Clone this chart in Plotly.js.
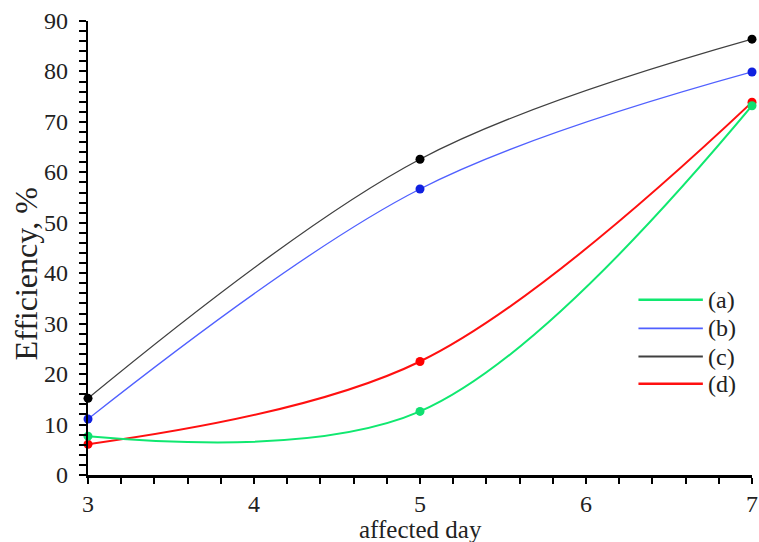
<!DOCTYPE html>
<html>
<head>
<meta charset="utf-8">
<script src="https://cdn.plot.ly/plotly-3.0.1.min.js"></script>
<style>html,body{margin:0;padding:0;background:#fff;}#chart{width:759px;height:542px;}</style>
</head>
<body>
<div id="chart"></div>
<script>
var days = [3, 5, 7];
var seriesA = [7.7, 12.6, 73.2];
var seriesB = [11.1, 56.7, 79.9];
var seriesC = [15.2, 62.6, 86.4];
var seriesD = [6.1, 22.5, 73.9];
var names = ['(a)', '(b)', '(c)', '(d)'];
var xTickVals = [3, 3.2, 3.4, 3.6, 3.8, 4, 4.2, 4.4, 4.6, 4.8, 5, 5.2, 5.4, 5.6, 5.8, 6, 6.2, 6.4, 6.6, 6.8, 7];
var xTickText = ['3', '', '', '', '', '4', '', '', '', '', '5', '', '', '', '', '6', '', '', '', '', '7'];
var yTickVals = [0, 2, 4, 6, 8, 10, 12, 14, 16, 18, 20, 22, 24, 26, 28, 30, 32, 34, 36, 38, 40, 42, 44, 46, 48, 50, 52, 54, 56, 58, 60, 62, 64, 66, 68, 70, 72, 74, 76, 78, 80, 82, 84, 86, 88, 90];
var yLabelVals = [0, 10, 20, 30, 40, 50, 60, 70, 80, 90];
var xTitle = 'affected day';
var yTitle = 'Efficiency, %';
var lineColors = ['#10e870', '#5060ff', '#404040', '#ff1010'];
var markerColors = ['#10e070', '#1020e0', '#000000', '#ff0000'];
var lineWidths = [2, 1.3, 1.3, 2];

function tr(y, i) {
  return {
    x: days, y: y, name: names[i], type: 'scatter', mode: 'lines+markers',
    line: {shape: 'spline', smoothing: 1, color: lineColors[i], width: lineWidths[i]},
    marker: {size: 9, color: markerColors[i]},
    cliponaxis: false, showlegend: false
  };
}

var data = [tr(seriesD, 3), tr(seriesC, 2), tr(seriesB, 1), tr(seriesA, 0)];

var fam = 'Liberation Serif, Times New Roman, serif';
var font = {family: fam, size: 24, color: '#222'};
var titleFont = {family: fam, size: 25, color: '#222'};
var yTitleFont = {family: fam, size: 32, color: '#222'};

// manual legend (long line samples, no markers)
var legY = [0.386, 0.323, 0.261, 0.201];
var shapes = [], annotations = [];
for (var i = 0; i < names.length; i++) {
  shapes.push({type: 'line', xref: 'paper', yref: 'paper', x0: 0.829, x1: 0.926, y0: legY[i], y1: legY[i],
    line: {color: lineColors[i], width: lineWidths[i] + 0.5}});
  annotations.push({xref: 'paper', yref: 'paper', x: 0.930, y: legY[i], xanchor: 'left', yanchor: 'middle',
    text: names[i], showarrow: false, font: font});
}
// y tick labels as annotations (placed through the y scale)
yLabelVals.forEach(function (v) {
  annotations.push({xref: 'paper', yref: 'y', x: -0.027, y: v, xanchor: 'right', yanchor: 'middle',
    text: String(v), showarrow: false, font: font});
});
// axis titles placed as annotations
annotations.push({xref: 'paper', yref: 'paper', x: 0.5, y: -0.12, xanchor: 'center', yanchor: 'middle',
  text: xTitle, showarrow: false, font: titleFont});
annotations.push({xref: 'paper', yref: 'paper', x: -0.094, y: 0.443, xanchor: 'center', yanchor: 'middle',
  text: yTitle, textangle: -90, showarrow: false, font: yTitleFont});

var layout = {
  width: 759, height: 542,
  margin: {l: 88, r: 7, t: 21, b: 67, pad: 0},
  paper_bgcolor: '#fff', plot_bgcolor: '#fff',
  font: font,
  showlegend: false,
  shapes: shapes,
  annotations: annotations,
  xaxis: {
    range: [3, 7], tickmode: 'array', tickvals: xTickVals, ticktext: xTickText,
    showgrid: false, zeroline: false, showline: true, linecolor: '#000', linewidth: 2.5,
    ticks: 'outside', ticklen: 6, tickwidth: 2, tickcolor: '#000',
    tickfont: font, automargin: false
  },
  yaxis: {
    range: [0, 90], tickmode: 'array', tickvals: yTickVals, showticklabels: false,
    showgrid: false, zeroline: false, showline: true, linecolor: '#000', linewidth: 2.5,
    ticks: 'outside', ticklen: 7, tickwidth: 2, tickcolor: '#000',
    automargin: false
  }
};

Plotly.newPlot('chart', data, layout, {displayModeBar: false, staticPlot: true});
</script>
</body>
</html>
